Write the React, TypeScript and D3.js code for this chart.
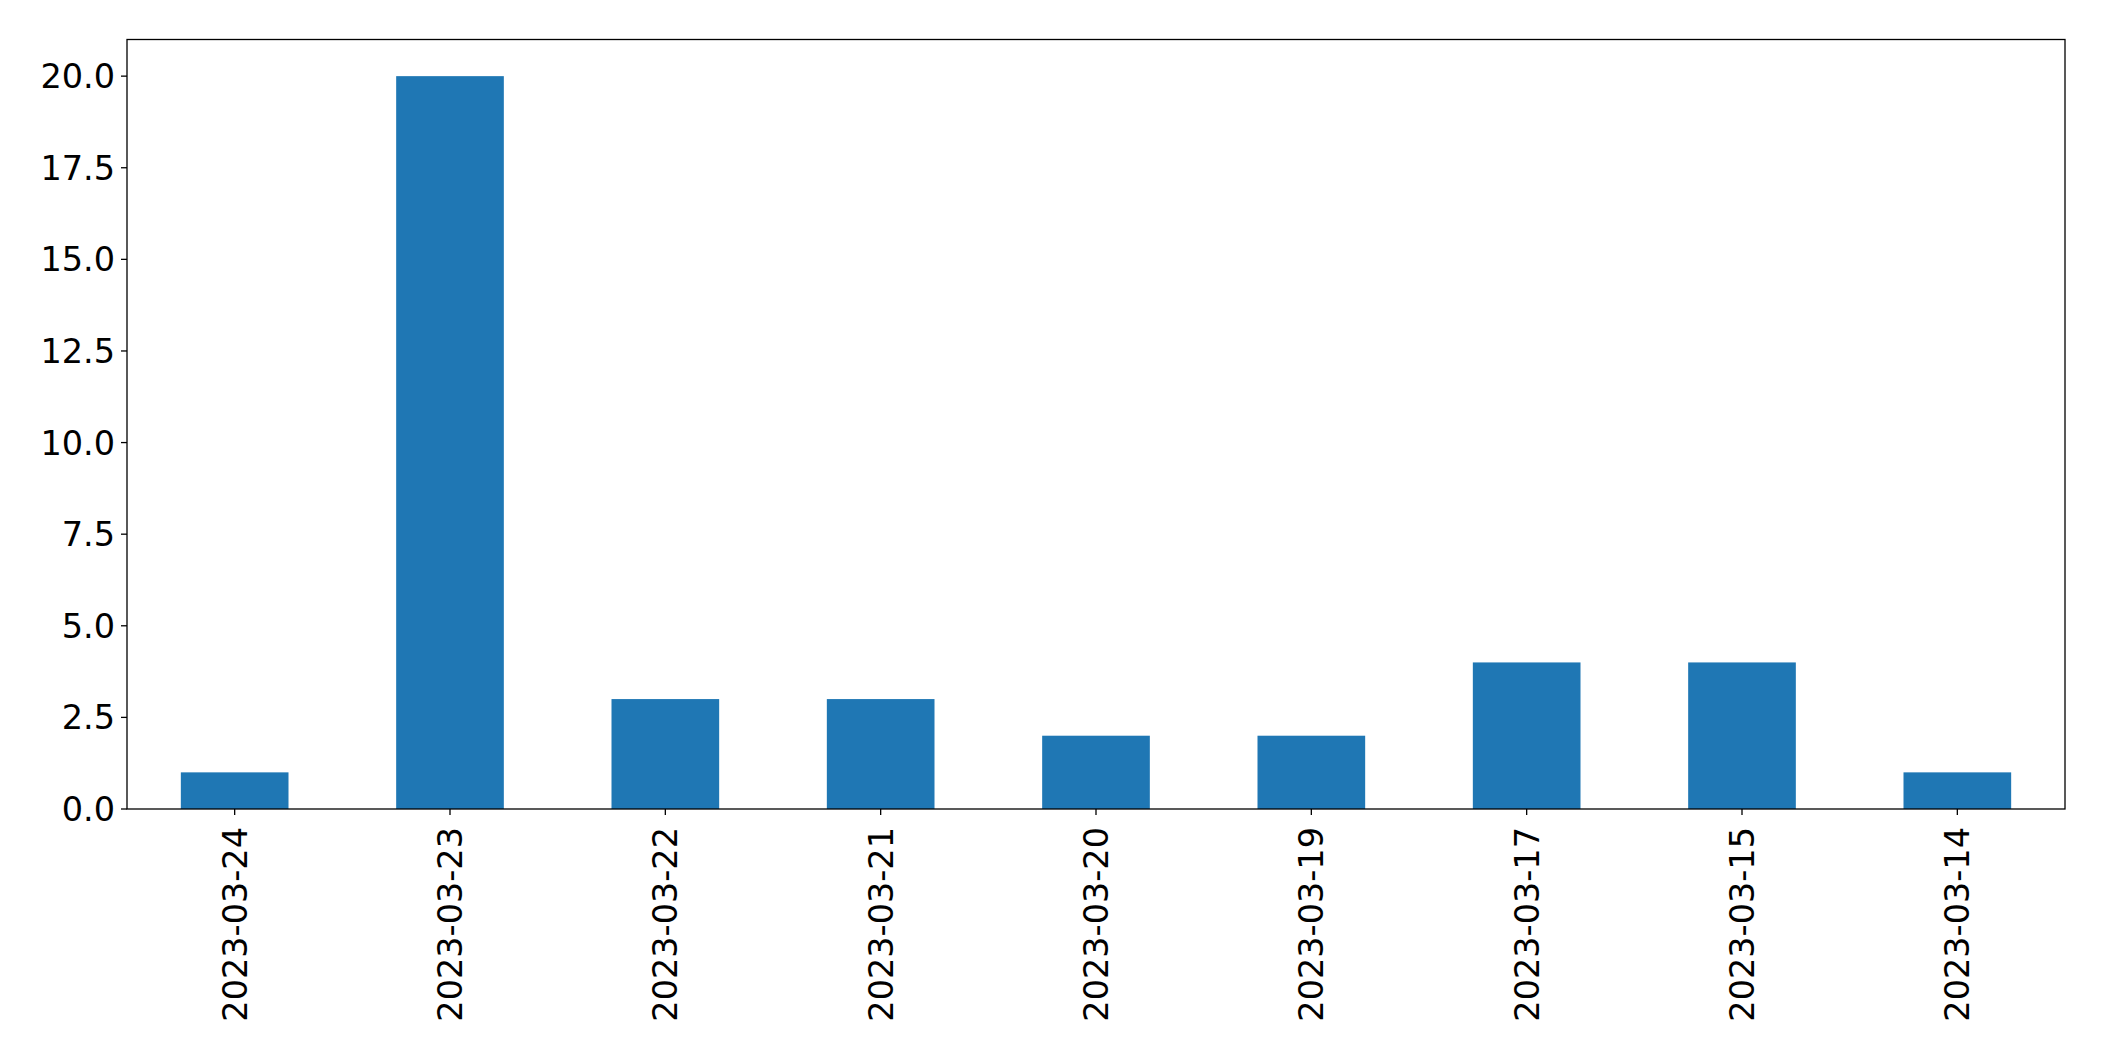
import React from "react";
import * as d3 from "d3";

const categories = [
  "2023-03-24",
  "2023-03-23",
  "2023-03-22",
  "2023-03-21",
  "2023-03-20",
  "2023-03-19",
  "2023-03-17",
  "2023-03-15",
  "2023-03-14",
];
const values = [1, 20, 3, 3, 2, 2, 4, 4, 1];
const yTicks = [0, 2.5, 5, 7.5, 10, 12.5, 15, 17.5, 20];

const W = 2104;
const H = 1061;
const M = { left: 127, right: 2065, top: 39.5, bottom: 809 };
const FONT = "'DejaVu Sans', sans-serif";
const FS = 33.5;

export default function App() {
  const x = d3.scaleLinear().domain([-0.5, categories.length - 0.5]).range([M.left, M.right]);
  const y = d3.scaleLinear().domain([0, 21]).range([M.bottom, M.top]);
  const barW = x(0.5) - x(0);
  return (
    <svg
      width={W}
      height={H}
      style={{ position: "absolute", left: 0, top: 0, display: "block", background: "#fff" }}
    >
      <rect x={0} y={0} width={W} height={H} fill="#fff" />
      {values.map((v, i) => (
        <rect
          key={i}
          x={x(i) - barW / 2}
          y={y(v)}
          width={barW}
          height={y(0) - y(v)}
          fill="#1f77b4"
        />
      ))}
      <rect
        x={M.left}
        y={M.top}
        width={M.right - M.left}
        height={M.bottom - M.top}
        fill="none"
        stroke="#000"
        strokeWidth={1.3}
      />
      {yTicks.map((t) => (
        <g key={t}>
          <line x1={M.left - 6} x2={M.left} y1={y(t)} y2={y(t)} stroke="#000" strokeWidth={1.3} />
          <text
            x={M.left - 12}
            y={y(t)}
            dy="0.36em"
            textAnchor="end"
            fontFamily={FONT}
            fontSize={FS}
            fill="#000"
          >
            {t.toFixed(1)}
          </text>
        </g>
      ))}
      {categories.map((c, i) => (
        <g key={c}>
          <line x1={x(i)} x2={x(i)} y1={M.bottom} y2={M.bottom + 6} stroke="#000" strokeWidth={1.3} />
          <text
            transform={`translate(${x(i)},${M.bottom + 18}) rotate(-90)`}
            dy="0.36em"
            textAnchor="end"
            fontFamily={FONT}
            fontSize={FS}
            fill="#000"
          >
            {c}
          </text>
        </g>
      ))}
    </svg>
  );
}
